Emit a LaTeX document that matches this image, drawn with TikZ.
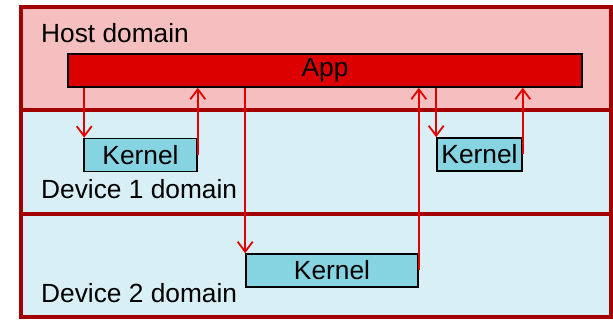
\documentclass[tikz,border=0pt]{standalone}
\usepackage{fontspec}
\setmainfont{Liberation Sans}
\usetikzlibrary{arrows.meta}

\definecolor{framered}{HTML}{A30000}
\definecolor{hostfill}{HTML}{F5BFBF}
\definecolor{devfill}{HTML}{D7EFF5}
\definecolor{appfill}{HTML}{DD0000}
\definecolor{kernfill}{HTML}{86D3E2}
\definecolor{callred}{HTML}{E00000}

\tikzset{
  domainframe/.style={draw=framered, line width=4.5pt},
  domainlabel/.style={anchor=base west, inner sep=0pt, font=\fontsize{26.3}{30}\selectfont},
  appbox/.style={draw=black, line width=1.6pt, fill=appfill, inner sep=0pt,
    font=\fontsize{26.3}{30}\selectfont},
  kernbox/.style={draw=black, line width=1.6pt, fill=kernfill, inner sep=0pt,
    font=\fontsize{26.3}{30}\selectfont},
  call/.style={draw=callred, line width=2pt,
    -{Straight Barb[length=10pt,width=15pt,line width=1.8pt]}},
}

\begin{document}
\begin{tikzpicture}[x=1pt, y=-1pt]
  \useasboundingbox (0,0) rectangle (613,320);

  % the three domains
  \draw[domainframe, fill=hostfill] (21,7) rectangle (611,110);
  \draw[domainframe, fill=devfill] (21,110) rectangle (611,214);
  \draw[domainframe, fill=devfill] (21,214) rectangle (611,317);

  \node[domainlabel] (hostlbl) at (41,42.5) {Host domain};
  \node[domainlabel] (dev1lbl) at (41,199) {Device 1 domain};
  \node[domainlabel] (dev2lbl) at (41,302.5) {Device 2 domain};

  % application and kernels
  \node[appbox, minimum width=514pt, minimum height=33pt] (app) at (325,70.5) {App};
  \node[kernbox, minimum width=113pt, minimum height=33pt] (k1) at (140.5,155) {Kernel};
  \node[kernbox, minimum width=85pt, minimum height=33pt] (k2) at (479.5,154.5) {Kernel};
  \node[kernbox, minimum width=172pt, minimum height=33pt] (k3) at (332,270.5) {Kernel};

  % launches and returns
  \draw[call] ([xshift=1pt]k1.north west |- app.south) -- ([xshift=1pt]k1.north west);
  \draw[call] (k1.east) -- (k1.east |- app.south);
  \draw[call] (k3.north west |- app.south) -- (k3.north west);
  \draw[call] (k3.east) -- (k3.east |- app.south);
  \draw[call] (k2.north west |- app.south) -- (k2.north west);
  \draw[call] (k2.east) -- (k2.east |- app.south);
\end{tikzpicture}
\end{document}
